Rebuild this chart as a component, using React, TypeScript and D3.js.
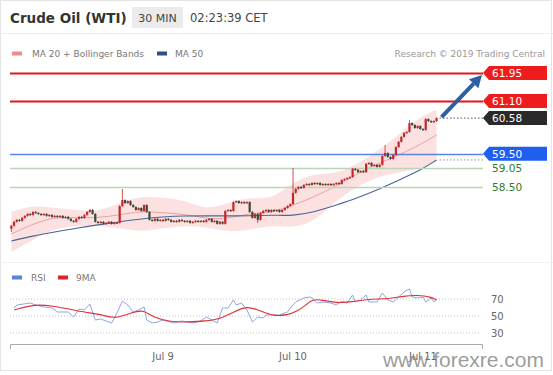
import * as d3 from "d3";

// 30-minute bars, first bar Sun Jul 7 20:00
const HALF_HOUR = 30 * 60 * 1000;
const firstBar = Date.UTC(2019, 6, 7, 20, 0);

const firstOpen = 57.22;
const closes = [
  57.31, 57.43, 57.49, 57.46, 57.55, 57.61, 57.67, 57.64, 57.73, 57.7,
  57.67, 57.64, 57.67, 57.61, 57.64, 57.58, 57.61, 57.58, 57.61, 57.55,
  57.58, 57.52, 57.46, 57.43, 57.52, 57.58, 57.55, 57.64, 57.73, 57.79,
  57.67, 57.43, 57.4, 57.43, 57.37, 57.4, 57.43, 57.37, 57.4, 57.4,
  57.91, 58.09, 58.0, 58.06, 57.94, 57.88, 57.79, 57.85, 57.76, 57.94,
  57.73, 57.49, 57.46, 57.52, 57.46, 57.49, 57.46, 57.52, 57.49, 57.43,
  57.46, 57.43, 57.49, 57.46, 57.43, 57.46, 57.4, 57.43, 57.46, 57.43,
  57.46, 57.43, 57.49, 57.52, 57.43, 57.46, 57.37, 57.43, 57.37, 57.76,
  57.79, 57.76, 58.03, 58.06, 58.0, 58.03, 58.0, 58.03, 57.73, 57.55,
  57.67, 57.49, 57.7, 57.76, 57.79, 57.73, 57.79, 57.76, 57.79, 57.73,
  57.79, 57.85, 57.91, 57.97, 58.31, 58.43, 58.49, 58.46, 58.55, 58.58,
  58.55, 58.61, 58.58, 58.61, 58.55, 58.58, 58.55, 58.58, 58.55, 58.58,
  58.61, 58.58, 58.7, 58.73, 58.76, 58.79, 59.04, 59.01, 58.94, 58.97,
  58.94, 59.19, 59.22, 59.13, 59.16, 59.1, 59.16, 59.43, 59.52, 59.4,
  59.34, 59.46, 59.7, 59.86, 60.01, 60.13, 60.16, 60.43, 60.37, 60.28,
  60.34, 60.25, 60.22, 60.55, 60.49, 60.46, 60.49, 60.58,
];
const highIdx = [41, 104, 138, 147];
const highVal = [58.43, 59.07, 59.76, 60.52];
const lowIdx = [0, 91];
const lowVal = [57.12, 57.4];

// indicator readings (bar index -> value)
const bandIdx = [0, 8, 16, 24, 32, 40, 48, 56, 64, 72, 80, 88, 96, 104, 112, 120, 128, 136, 144, 152, 157];
const ma20 = [57.06, 57.37, 57.58, 57.55, 57.55, 57.64, 57.76, 57.7, 57.67, 57.52, 57.52, 57.7, 57.7, 57.94, 58.19, 58.52, 58.91, 59.22, 59.49, 59.82, 60.07];
const bandUpper = [57.73, 57.94, 57.85, 57.79, 57.73, 58.0, 58.22, 58.16, 58.09, 57.79, 58.0, 58.19, 58.09, 58.64, 58.91, 58.88, 59.19, 59.61, 60.16, 60.67, 60.83];
const bandLower = [56.52, 56.88, 57.24, 57.31, 57.31, 57.24, 57.12, 57.24, 57.31, 57.27, 57.12, 57.18, 57.34, 57.24, 57.43, 58.09, 58.52, 58.82, 58.94, 59.07, 59.25];
const ma50 = [56.85, 57.0, 57.12, 57.24, 57.34, 57.43, 57.52, 57.58, 57.61, 57.61, 57.61, 57.61, 57.64, 57.61, 57.73, 57.94, 58.16, 58.43, 58.73, 59.04, 59.31];

const rsiIdx = [1, 2, 7, 9, 12, 15, 17, 21, 23, 25, 27, 29, 31, 33, 35, 37, 39, 41, 43, 45, 47, 49, 50, 52, 54, 56, 60, 63, 67, 70, 72, 74, 76, 78, 80, 82, 83, 85, 87, 89, 91, 93, 94, 97, 99, 102, 103, 105, 108, 110, 111, 113, 115, 118, 120, 122, 124, 126, 127, 129, 131, 132, 135, 137, 139, 141, 143, 145, 147, 148, 150, 152, 153, 155, 156, 157];
const rsiVal = [59.4, 62.9, 65.3, 62.9, 60.6, 59.4, 54.7, 54.7, 48.8, 58.2, 57.1, 64.1, 45.3, 46.5, 44.1, 41.8, 53.5, 67.6, 62.9, 54.7, 57.1, 60.6, 45.3, 41.8, 42.9, 45.3, 41.8, 44.1, 41.8, 44.1, 48.8, 45.3, 41.8, 59.4, 59.4, 68.8, 62.9, 65.3, 57.1, 42.9, 48.8, 47.6, 51.2, 51.2, 51.2, 54.7, 59.4, 66.5, 71.2, 72.4, 71.2, 65.3, 66.5, 65.3, 62.9, 67.6, 65.3, 74.7, 66.5, 68.8, 74.7, 66.5, 66.5, 77.1, 68.8, 66.5, 72.4, 78.2, 81.8, 72.4, 71.2, 72.4, 66.5, 71.2, 66.5, 68.8];
const rsiMaIdx = [1, 9, 15, 23, 29, 34, 38, 45, 49, 52, 59, 65, 72, 77, 82, 87, 91, 94, 97, 102, 105, 109, 111, 115, 120, 126, 132, 139, 145, 150, 155, 157];
const rsiMaVal = [57.1, 64.1, 61.8, 57.1, 53.5, 51.2, 46.5, 54.7, 57.1, 48.8, 42.9, 42.9, 44.1, 46.5, 54.7, 61.8, 57.1, 53.5, 50.0, 51.2, 54.7, 62.9, 70.0, 68.8, 65.3, 66.5, 70.0, 70.0, 73.5, 74.7, 72.4, 68.8];

const levelValues = [61.95, 61.1, 59.5, 59.05, 58.5];
const levelKinds = ["res", "res", "pivot", "sup", "sup"];
const lastPrice = 60.58;
const targetPrice = 61.95;

const dayTicks = ["2019-07-09", "2019-07-10", "2019-07-11"];
const rsiTicks = [70, 50, 30];

const FONT = "DejaVu Sans, sans-serif";

type Bar = { t: Date; o: number; h: number; l: number; c: number };

export default function App() {
  const bars: Bar[] = closes.map((c, i) => {
    const o = i === 0 ? firstOpen : closes[i - 1];
    const hi = highIdx.indexOf(i);
    const lo = lowIdx.indexOf(i);
    return {
      t: new Date(firstBar + i * HALF_HOUR),
      o,
      c,
      h: hi >= 0 ? highVal[hi] : Math.max(o, c) + 0.025,
      l: lo >= 0 ? lowVal[lo] : Math.min(o, c) - 0.025,
    };
  });
  const timeAt = (i: number) => new Date(firstBar + i * HALF_HOUR);

  const x = d3
    .scaleUtc()
    .domain([new Date(Date.UTC(2019, 6, 9)), new Date(Date.UTC(2019, 6, 10))])
    .range([163, 293]);
  const y = d3.scaleLinear().domain([58.5, 61.95]).range([186.6, 73]);
  const yr = d3.scaleLinear().domain([30, 70]).range([333, 299]);

  const plotLeft = 10;
  const plotRight = 483;
  const labelX = 483;

  const band = d3
    .area<number>()
    .x((i) => x(timeAt(bandIdx[i])))
    .y0((i) => y(bandLower[i]))
    .y1((i) => y(bandUpper[i]))
    .curve(d3.curveBasis);
  const bandLine = (vals: number[]) =>
    d3
      .line<number>()
      .x((i) => x(timeAt(bandIdx[i])))
      .y((i) => y(vals[i]))
      .curve(d3.curveBasis)(d3.range(bandIdx.length)) || "";
  const rsiLine = (idx: number[], vals: number[], curve: d3.CurveFactory) =>
    d3
      .line<number>()
      .x((i) => x(timeAt(idx[i])))
      .y((i) => yr(vals[i]))
      .curve(curve)(d3.range(idx.length)) || "";

  const lastBar = bars[bars.length - 1];
  const lastX = x(lastBar.t);

  // arrow to target
  const ax0 = lastX + 5;
  const ay0 = y(lastPrice) - 1;
  const ax1 = 482;
  const ay1 = y(targetPrice) + 2;
  const len = Math.hypot(ax1 - ax0, ay1 - ay0);
  const ux = (ax1 - ax0) / len;
  const uy = (ay1 - ay0) / len;
  const headL = 12;
  const headW = 6.5;
  const bx = ax1 - ux * headL;
  const by = ay1 - uy * headL;
  const head = [
    [ax1, ay1],
    [bx - uy * headW, by + ux * headW],
    [bx + uy * headW, by - ux * headW],
  ]
    .map((p) => p.join(","))
    .join(" ");

  const tag = (yy: number) =>
    `M${labelX},${yy} L${labelX + 6},${yy - 7} L547,${yy - 7} L547,${yy + 7} L${labelX + 6},${yy + 7} Z`;

  const levelColor = (k: string) =>
    k === "res" ? "#e3171b" : k === "pivot" ? "#5b84ea" : "#b9d5b6";

  const ma50End = ma50[ma50.length - 1];

  return (
    <svg
      width={553}
      height={375}
      style={{ position: "absolute", left: 0, top: 0, fontFamily: FONT }}
    >
      <rect x={0} y={0} width={553} height={375} fill="#fff" />
      <rect x={0.5} y={0.5} width={551} height={370} fill="none" stroke="#e4e4e4" />
      <line x1={0} x2={553} y1={33.5} y2={33.5} stroke="#ededed" />
      <line x1={0} x2={553} y1={262.5} y2={262.5} stroke="#f0f0f0" />

      {/* header */}
      <text x={10} y={22.5} fontSize={13.5} fontWeight="bold" fill="#333">
        Crude Oil (WTI)
      </text>
      <rect x={132} y={7} width={51} height={21} fill="#ebebeb" />
      <text x={157.5} y={22} fontSize={11} fill="#444" textAnchor="middle">
        30 MIN
      </text>
      <text x={190} y={22} fontSize={11.5} fill="#444">
        02:23:39 CET
      </text>

      {/* legend */}
      <rect x={12} y={51.5} width={10} height={4} fill="#ee8b8b" />
      <text x={32} y={56.5} fontSize={9} fill="#777">
        MA 20 + Bollinger Bands
      </text>
      <rect x={157} y={51.5} width={10} height={4} fill="#2f4f85" />
      <text x={175} y={56.5} fontSize={9} fill="#777">
        MA 50
      </text>
      <text x={545} y={56.5} fontSize={9} fill="#999" textAnchor="end">
        Research © 2019 Trading Central
      </text>

      {/* bollinger band */}
      <path d={band(d3.range(bandIdx.length)) || ""} fill="#fbdcdc" opacity={0.85} />
      <path d={bandLine(ma20)} fill="none" stroke="#eba2a2" strokeWidth={1} />
      <path d={bandLine(ma50)} fill="none" stroke="#4a6596" strokeWidth={1.1} />

      {/* level lines */}
      {levelValues.map((v, i) => (
        <line
          key={"lv" + i}
          x1={plotLeft}
          x2={plotRight}
          y1={Math.round(y(v)) + 0.5}
          y2={Math.round(y(v)) + 0.5}
          stroke={levelColor(levelKinds[i])}
          strokeWidth={levelKinds[i] === "res" ? 2 : 1.3}
        />
      ))}

      {/* candles */}
      {bars.map((b, i) => {
        const up = b.c >= b.o;
        const col = up ? "#c3272c" : "#3d4a3a";
        const cx = x(b.t);
        const top = y(Math.max(b.o, b.c));
        const bot = y(Math.min(b.o, b.c));
        return (
          <g key={"c" + i}>
            <line x1={cx} x2={cx} y1={y(b.h)} y2={y(b.l)} stroke={col} strokeWidth={0.8} />
            <rect x={cx - 1.1} y={top} width={2.2} height={Math.max(bot - top, 1.2)} fill={col} />
          </g>
        );
      })}

      {/* last price & ma50 dotted */}
      <line
        x1={lastX + 3}
        x2={labelX}
        y1={y(lastPrice)}
        y2={y(lastPrice)}
        stroke="#555"
        strokeDasharray="1.5,2"
      />
      <line
        x1={lastX + 3}
        x2={labelX}
        y1={y(ma50End)}
        y2={y(ma50End)}
        stroke="#8193b8"
        strokeDasharray="1.5,2"
      />

      {/* arrow */}
      <line x1={ax0} y1={ay0} x2={bx} y2={by} stroke="#2c5ea6" strokeWidth={4} />
      <polygon points={head} fill="#2c5ea6" />

      {/* level tags */}
      {levelValues.map((v, i) =>
        levelKinds[i] === "sup" ? (
          <text key={"lt" + i} x={492} y={y(v) + 4} fontSize={10.5} fill="#2f7a2a">
            {v.toFixed(2)}
          </text>
        ) : (
          <g key={"lt" + i}>
            <path d={tag(y(v))} fill={levelKinds[i] === "res" ? "#ee1c1c" : "#1f5ff0"} />
            <text x={492} y={y(v) + 4} fontSize={10.5} fill="#fff">
              {v.toFixed(2)}
            </text>
          </g>
        )
      )}
      <path d={tag(y(lastPrice))} fill="#2a2a2a" />
      <text x={492} y={y(lastPrice) + 4} fontSize={10.5} fill="#fff">
        {lastPrice.toFixed(2)}
      </text>

      {/* RSI panel */}
      <rect x={12} y={275.5} width={10} height={4} fill="#5d80d8" />
      <text x={31} y={281} fontSize={9} fill="#777">
        RSI
      </text>
      <rect x={58} y={275.5} width={10} height={4} fill="#e0242a" />
      <text x={76} y={281} fontSize={9} fill="#777">
        9MA
      </text>
      {rsiTicks.map((t) => (
        <g key={"rt" + t}>
          <line
            x1={plotLeft}
            x2={plotRight - 2}
            y1={yr(t)}
            y2={yr(t)}
            stroke="#c4c4c4"
            strokeDasharray="1,2"
          />
          <text x={491} y={yr(t) + 4} fontSize={10} fill="#666">
            {t}
          </text>
        </g>
      ))}
      <path
        d={rsiLine(rsiIdx, rsiVal, d3.curveLinear)}
        fill="none"
        stroke="#8ea7e3"
        strokeWidth={1}
      />
      <path
        d={rsiLine(rsiMaIdx, rsiMaVal, d3.curveBasis)}
        fill="none"
        stroke="#e0303a"
        strokeWidth={1.1}
      />

      {/* time axis */}
      <path
        d={`M${plotLeft + 0.5},349 V344.5 H${plotRight - 0.5} V349`}
        fill="none"
        stroke="#aaa"
        strokeWidth={1}
      />
      {dayTicks.map((d) => {
        const t = new Date(d + "T00:00:00Z");
        return (
          <text key={d} x={x(t)} y={360} fontSize={10} fill="#666" textAnchor="middle">
            {d3.utcFormat("%b %-d")(t)}
          </text>
        );
      })}

      {/* watermark (sits over the last date label, as in the source) */}
      <text
        x={544}
        y={367}
        fontSize={21}
        fontFamily="Liberation Sans, Arial, sans-serif"
        fill="#8a8a8a"
        fillOpacity={0.85}
        textAnchor="end"
      >
        www.forexre.com
      </text>
    </svg>
  );
}
